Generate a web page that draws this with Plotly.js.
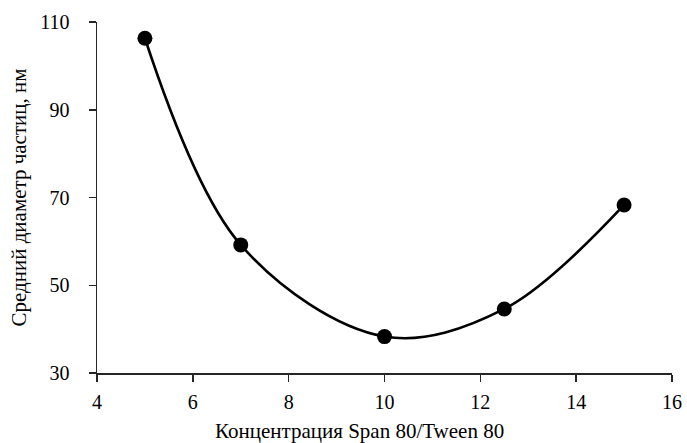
<!DOCTYPE html>
<html>
<head>
<meta charset="utf-8">
<script src="https://cdn.plot.ly/plotly-3.0.1.min.js"></script>
<style>
  html, body { margin: 0; padding: 0; background: #fff; }
  #chart { width: 687px; height: 443px; }
</style>
</head>
<body>
<div id="chart"></div>
<script>
// Span 80/Tween 80 concentration vs. mean particle diameter
const concentration = [5, 7, 10, 12.5, 15];
const diameterNm = [106.3, 59.2, 38.3, 44.6, 68.3];

const xTickValues = [4, 6, 8, 10, 12, 14, 16];
const yTickValues = [30, 50, 70, 90, 110];

const xTitle = 'Концентрация Span 80/Tween 80';
const yTitle = 'Средний диаметр частиц, нм';

const serif = '"Liberation Serif", "Times New Roman", serif';

const trace = {
  x: concentration,
  y: diameterNm,
  type: 'scatter',
  mode: 'lines+markers',
  line: { shape: 'spline', smoothing: 1, color: '#000', width: 2.6 },
  marker: { color: '#000', size: 15 },
  hoverinfo: 'x+y'
};

const axisCommon = {
  showgrid: false,
  zeroline: false,
  showline: true,
  linecolor: '#262626',
  linewidth: 1.5,
  ticks: 'outside',
  ticklen: 7,
  tickwidth: 1.5,
  tickcolor: '#262626',
  tickfont: { family: serif, size: 20, color: '#000' }
};

const layout = {
  width: 687,
  height: 443,
  margin: { l: 97, r: 15, t: 22, b: 70 },
  paper_bgcolor: '#fff',
  plot_bgcolor: '#fff',
  showlegend: false,
  xaxis: Object.assign({}, axisCommon, {
    range: [4, 16],
    tickvals: xTickValues,
    ticklabelstandoff: 3
  }),
  yaxis: Object.assign({}, axisCommon, {
    range: [30, 110],
    tickvals: yTickValues,
    ticklabelstandoff: 15,
    title: { text: yTitle, font: { family: serif, size: 21, color: '#000' }, standoff: 8 }
  }),
  annotations: [{
    text: xTitle,
    xref: 'paper', yref: 'paper',
    x: 0.457, y: -0.125,
    xanchor: 'center', yanchor: 'top',
    showarrow: false,
    font: { family: serif, size: 21, color: '#000' }
  }]
};

Plotly.newPlot('chart', [trace], layout, { displayModeBar: false, staticPlot: true });
</script>
</body>
</html>
